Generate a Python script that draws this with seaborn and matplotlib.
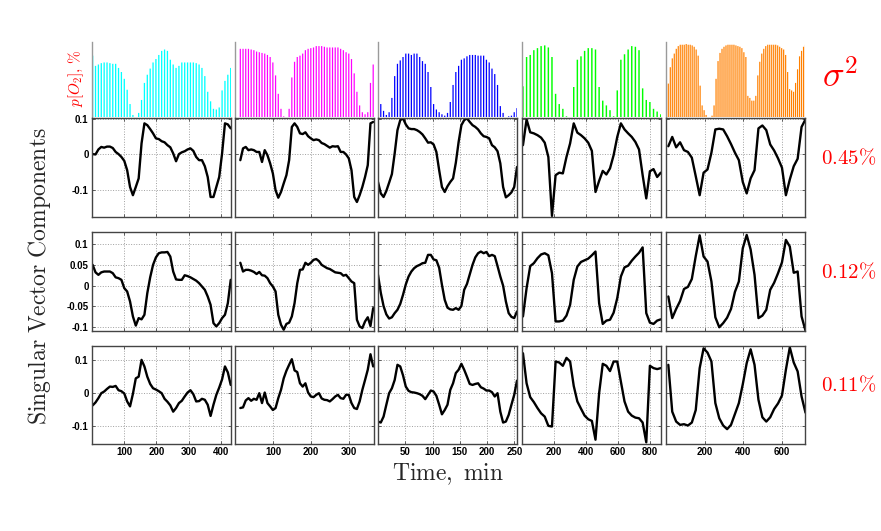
import numpy as np
import matplotlib
matplotlib.use('Agg')
import matplotlib.pyplot as plt
import seaborn as sns

o2_a = [90, 75, 77, 79, 80, 80, 79, 78, 78, 72, 66, 56, 40, 19, 3, 0, 6, 25, 50, 62,
        71, 80, 85, 91, 97, 99, 97, 84, 77, 72, 75, 80, 80, 80, 80, 80, 79, 77, 72, 60,
        37, 23, 12, 11, 14, 39, 53, 62, 72]
o2_b = [100, 100, 100, 100, 99, 98, 96, 95, 94, 93, 91, 88, 80, 61, 34, 12, 1, 0, 12, 58,
        81, 88, 90, 93, 98, 100, 101, 102, 104, 104, 104, 103, 102, 102, 102, 102, 102, 100, 98, 95,
        93, 85, 64, 37, 17, 7, 4, 7, 50, 77]
o2_c = [28, 19, 9, 3, 7, 28, 60, 78, 83, 88, 93, 93, 91, 93, 93, 88, 82, 78, 66, 44,
        19, 11, 7, 4, 2, 6, 22, 47, 66, 75, 84, 86, 89, 91, 91, 91, 90, 90, 90, 84,
        80, 71, 63, 47, 16, 6, 0, 1, 2, 7, 13]
o2_d = [45, 88, 91, 98, 101, 104, 105, 102, 88, 34, 19, 12, 1, 0, 44, 84, 89, 97, 101, 101,
        99, 44, 24, 17, 10, 1, 39, 84, 92, 99, 104, 103, 98, 42, 25, 22, 12, 8, 4]
o2_e = [49, 73, 86, 93, 100, 104, 106, 106, 106, 107, 106, 106, 105, 103, 99, 90, 46, 17, 10, 3,
        0, 0, 2, 17, 56, 82, 94, 100, 103, 105, 106, 106, 106, 106, 105, 104, 103, 101, 95, 88,
        31, 28, 24, 24, 31, 61, 81, 93, 100, 104, 106, 106, 106, 106, 106, 105, 103, 101, 99, 91,
        66, 41, 39, 37, 50, 70, 89, 97, 103, 106]

# sampling times, min
t_a = 2 + 8.94 * np.arange(len(o2_a))
t_b = 14 + 7.14 * np.arange(len(o2_b))
t_c = 0 + 5.1 * np.arange(len(o2_c))
t_d = 6 + 22.7 * np.arange(len(o2_d))
t_e = 12 + 10.3 * np.arange(len(o2_e))
t_e_sv = 12 + 20.3 * np.arange(36)

# first three singular vectors per experiment
u1_a = [0.001, 0.0, 0.014, 0.021, 0.019, 0.022, 0.022, 0.018, 0.007, 0.001,
        -0.007, -0.018, -0.044, -0.091, -0.114, -0.091, -0.067, 0.031, 0.087, 0.082,
        0.071, 0.059, 0.045, 0.043, 0.037, 0.034, 0.026, 0.020, 0.003, -0.019,
        0.001, 0.006, 0.009, 0.014, 0.017, 0.010, -0.007, -0.016, -0.016, -0.033,
        -0.063, -0.119, -0.119, -0.091, -0.063, 0.003, 0.087, 0.084, 0.073]
u2_a = [0.050, 0.032, 0.026, 0.032, 0.034, 0.034, 0.034, 0.030, 0.020, 0.018,
        0.014, -0.006, -0.014, -0.038, -0.074, -0.096, -0.078, -0.081, -0.070, -0.018,
        0.020, 0.050, 0.068, 0.078, 0.080, 0.080, 0.081, 0.070, 0.034, 0.015,
        0.014, 0.014, 0.025, 0.023, 0.020, 0.016, 0.012, 0.006, -0.002, -0.010,
        -0.026, -0.046, -0.090, -0.098, -0.090, -0.078, -0.070, -0.042, 0.014]
u3_a = [-0.038, -0.029, -0.016, -0.001, 0.004, 0.012, 0.019, 0.018, 0.021, 0.008,
        0.005, -0.002, -0.026, -0.041, -0.003, 0.044, 0.049, 0.100, 0.080, 0.049,
        0.027, 0.014, 0.010, 0.005, -0.001, -0.018, -0.027, -0.038, -0.057, -0.046,
        -0.031, -0.024, -0.011, 0.001, 0.008, -0.004, -0.026, -0.025, -0.018, -0.021,
        -0.036, -0.070, -0.036, -0.006, 0.016, 0.041, 0.080, 0.062, 0.024]

u1_b = [-0.016, 0.017, 0.021, 0.012, 0.014, 0.012, 0.007, 0.007, -0.021, 0.012,
        -0.002, -0.025, -0.053, -0.100, -0.121, -0.105, -0.081, -0.058, -0.016, 0.077,
        0.087, 0.077, 0.059, 0.057, 0.062, 0.051, 0.045, 0.040, 0.042, 0.040,
        0.032, 0.029, 0.024, 0.019, 0.023, 0.022, 0.023, 0.007, 0.007, 0.000,
        -0.011, -0.044, -0.119, -0.133, -0.114, -0.091, -0.063, -0.030, 0.087, 0.091]
u2_b = [0.055, 0.034, 0.038, 0.038, 0.036, 0.033, 0.028, 0.033, 0.025, 0.024,
        0.018, 0.006, -0.002, -0.014, -0.070, -0.094, -0.106, -0.092, -0.089, -0.074,
        -0.042, 0.006, 0.038, 0.039, 0.055, 0.050, 0.055, 0.062, 0.064, 0.059,
        0.050, 0.046, 0.042, 0.040, 0.036, 0.032, 0.031, 0.030, 0.024, 0.026,
        0.018, 0.010, 0.006, -0.082, -0.098, -0.102, -0.086, -0.076, -0.097, -0.054]
u3_b = [-0.046, -0.044, -0.023, -0.016, -0.024, -0.018, -0.021, -0.001, -0.031, 0.001,
        -0.031, -0.041, -0.052, -0.046, -0.016, 0.009, 0.044, 0.067, 0.085, 0.102,
        0.068, 0.063, 0.029, 0.019, 0.029, 0.001, -0.011, -0.013, -0.006, -0.001,
        -0.017, -0.021, -0.022, -0.026, -0.019, -0.011, -0.006, -0.016, -0.018, -0.006,
        -0.006, -0.031, -0.046, -0.049, -0.026, 0.009, 0.039, 0.070, 0.117, 0.080]

u1_c = [-0.077, -0.109, -0.119, -0.102, -0.079, -0.055, 0.003, 0.068, 0.096, 0.101,
        0.084, 0.073, 0.071, 0.071, 0.068, 0.063, 0.056, 0.045, 0.033, 0.034,
        0.028, 0.007, -0.044, -0.091, -0.105, -0.089, -0.077, -0.067, -0.023, 0.035,
        0.082, 0.096, 0.101, 0.091, 0.082, 0.077, 0.070, 0.059, 0.051, 0.049,
        0.045, 0.026, 0.020, 0.009, -0.025, -0.091, -0.120, -0.114, -0.106, -0.091,
        -0.035]
u2_c = [0.026, -0.017, -0.049, -0.069, -0.079, -0.076, -0.066, -0.058, -0.044, -0.022,
        0.003, 0.022, 0.034, 0.042, 0.047, 0.050, 0.054, 0.055, 0.074, 0.074,
        0.063, 0.061, 0.043, 0.002, -0.034, -0.053, -0.057, -0.058, -0.054, -0.058,
        -0.049, -0.010, 0.004, 0.027, 0.050, 0.068, 0.078, 0.082, 0.078, 0.081,
        0.071, 0.074, 0.071, 0.047, 0.022, 0.000, -0.038, -0.066, -0.075, -0.078,
        -0.062]
u3_c = [-0.087, -0.090, -0.072, -0.036, -0.001, 0.014, 0.039, 0.085, 0.080, 0.053,
        0.019, 0.006, 0.002, 0.001, -0.001, -0.004, -0.009, -0.019, -0.006, 0.007,
        0.004, -0.009, -0.036, -0.065, -0.052, -0.036, 0.009, 0.029, 0.060, 0.070,
        0.088, 0.070, 0.049, 0.027, 0.024, 0.027, 0.029, 0.017, 0.013, 0.007,
        0.007, 0.002, -0.011, -0.001, -0.057, -0.090, -0.087, -0.067, -0.036, -0.006,
        0.037]

u1_d = [0.026, 0.098, 0.062, 0.059, 0.054, 0.047, 0.033, -0.007, -0.172, -0.058,
        -0.051, -0.053, -0.007, 0.031, 0.087, 0.061, 0.054, 0.045, 0.033, 0.010,
        -0.105, -0.074, -0.046, -0.056, -0.039, -0.002, 0.049, 0.087, 0.070, 0.059,
        0.049, 0.035, 0.014, -0.058, -0.123, -0.047, -0.041, -0.063, -0.051]
u2_d = [-0.074, -0.006, 0.047, 0.054, 0.066, 0.075, 0.078, 0.073, 0.030, -0.086,
        -0.086, -0.084, -0.072, -0.046, 0.014, 0.046, 0.057, 0.061, 0.065, 0.073,
        0.082, -0.042, -0.092, -0.084, -0.082, -0.065, -0.030, 0.022, 0.044, 0.048,
        0.060, 0.070, 0.079, 0.092, -0.066, -0.089, -0.092, -0.084, -0.081]
u3_d = [0.120, 0.029, -0.013, -0.028, -0.046, -0.062, -0.072, -0.100, -0.102, 0.095,
        0.092, 0.082, 0.106, 0.095, 0.021, -0.026, -0.048, -0.069, -0.080, -0.085,
        -0.142, -0.001, 0.088, 0.082, 0.066, 0.095, 0.095, 0.034, -0.026, -0.057,
        -0.069, -0.075, -0.077, -0.090, -0.150, 0.082, 0.075, 0.072, 0.075]

u1_e = [0.023, 0.049, 0.020, 0.034, 0.012, 0.007, -0.009, -0.061, -0.114, -0.051,
        -0.042, 0.005, 0.070, 0.072, 0.070, 0.051, 0.029, 0.005, -0.016, -0.077,
        -0.109, -0.067, -0.044, 0.073, 0.081, 0.068, 0.028, 0.011, -0.011, -0.037,
        -0.114, -0.070, -0.033, -0.012, 0.077, 0.098]
u2_e = [-0.026, -0.078, -0.056, -0.037, -0.008, -0.003, 0.016, 0.071, 0.121, 0.070,
        0.058, 0.010, -0.076, -0.100, -0.090, -0.077, -0.056, -0.015, 0.010, 0.090,
        0.122, 0.087, 0.026, -0.078, -0.072, -0.058, -0.010, 0.007, 0.030, 0.056,
        0.110, 0.094, 0.031, 0.034, -0.074, -0.108]
u3_e = [0.085, -0.057, -0.087, -0.097, -0.095, -0.099, -0.090, -0.052, 0.075, 0.135,
        0.122, 0.095, -0.031, -0.077, -0.099, -0.110, -0.097, -0.064, -0.031, 0.026,
        0.090, 0.132, 0.085, -0.021, -0.074, -0.087, -0.074, -0.049, -0.032, -0.008,
        0.070, 0.138, 0.092, 0.065, -0.011, -0.060]

sigma2 = ['0.45', '0.12', '0.11']
xmax = [432, 366, 255, 870, 720]
xticks = [[100, 200, 300, 400], [100, 200, 300], [50, 100, 150, 200, 250],
          [200, 400, 600, 800], [200, 400, 600]]
bar_colors = ['#00ffff', '#ff00ff', '#0000ff', '#00ff00', '#ff8000']
bar_frac = [0.45, 0.45, 0.45, 0.4, 0.6]

cols = [
    (t_a, o2_a, t_a, [u1_a, u2_a, u3_a]),
    (t_b, o2_b, t_b, [u1_b, u2_b, u3_b]),
    (t_c, o2_c, t_c, [u1_c, u2_c, u3_c]),
    (t_d, o2_d, t_d, [u1_d, u2_d, u3_d]),
    (t_e, o2_e, t_e_sv, [u1_e, u2_e, u3_e]),
]

ylims = [(-0.175, 0.102), (-0.109, 0.129), (-0.155, 0.142)]
yticks = [[-0.1, 0, 0.1], [-0.1, -0.05, 0, 0.05, 0.1], [-0.1, 0, 0.1]]
ylabels = [['-0.1', '0', '0.1'], ['-0.1', '-0.05', '0', '0.05', '0.1'], ['-0.1', '0', '0.1']]

sns.set_theme(style='white')
plt.rcParams['mathtext.fontset'] = 'cm'

W, H = 881, 531
fig = plt.figure(figsize=(W / 100, H / 100), dpi=100)


def rect(l, t, w, h):
    return [l / W, 1 - (t + h) / H, w / W, h / H]


col_left = [92, 235, 378, 522, 666]
col_w = 139
row_box = [(118, 99), (232, 99), (346, 98)]
tick_kw = dict(fontfamily='Liberation Sans', fontweight='bold', fontsize=7, color='black')

for j, (tb, o2, tl, us) in enumerate(cols):
    # pO2 bars on top
    axb = fig.add_axes(rect(col_left[j], 42, col_w, 75))
    dt = tb[1] - tb[0]
    bars = axb.bar(tb, o2, width=bar_frac[j] * dt, color=bar_colors[j],
                   edgecolor=bar_colors[j], linewidth=0)
    for b in bars:
        b.set_snap(False)
    axb.set_xlim(0, xmax[j])
    axb.set_ylim(0, 110)
    axb.set_xticks([])
    axb.set_yticks([])
    for s in ['top', 'right', 'bottom']:
        axb.spines[s].set_visible(False)
    axb.spines['left'].set_color('#9a9a9a')
    axb.spines['left'].set_linewidth(1.0)
    axb.patch.set_alpha(0)

    for r in range(3):
        ax = fig.add_axes(rect(col_left[j], row_box[r][0], col_w, row_box[r][1]))
        sns.lineplot(x=tl, y=us[r], ax=ax, color='black', linewidth=1.7, legend=False)
        ax.set_xlim(0, xmax[j])
        ax.set_ylim(*ylims[r])
        ax.set_xticks(xticks[j])
        ax.set_yticks(yticks[r])
        ax.grid(True, color='#a0a0a0', linestyle=':', linewidth=0.7)
        ax.tick_params(direction='in', length=2.5, width=0.6, color='#444444',
                       top=True, right=True, bottom=True, left=True, pad=2.5)
        if j == 0:
            ax.set_yticklabels(ylabels[r], **tick_kw)
        else:
            ax.set_yticklabels([])
        if r == 2:
            ax.set_xticklabels([str(v) for v in xticks[j]], **tick_kw)
        else:
            ax.set_xticklabels([])
        ax.set_xlabel('')
        ax.set_ylabel('')
        for s in ax.spines.values():
            s.set_color('#444444')
            s.set_linewidth(1.0)

fig.text(40 / W, 1 - 276 / H, r'$\mathrm{Singular\ Vector\ Components}$', rotation=90,
         ha='center', va='center', fontsize=17)
fig.text(448 / W, 1 - 474 / H, r'$\mathrm{Time,\ min}$', ha='center', va='center', fontsize=17)
fig.text(76 / W, 1 - 78 / H, r'$p[O_2],\,\%$', rotation=90, ha='center', va='center',
         fontsize=11, color='red')
fig.text(840 / W, 1 - 76 / H, r'$\sigma^2$', ha='center', va='center', fontsize=26, color='red')
for r, s in enumerate(sigma2):
    yc = row_box[r][0] + row_box[r][1] / 2 - 10
    fig.text(849 / W, 1 - yc / H, r'$%s\%%$' % s, ha='center', va='center', fontsize=15, color='red')

fig.savefig('out.png', dpi=100)
